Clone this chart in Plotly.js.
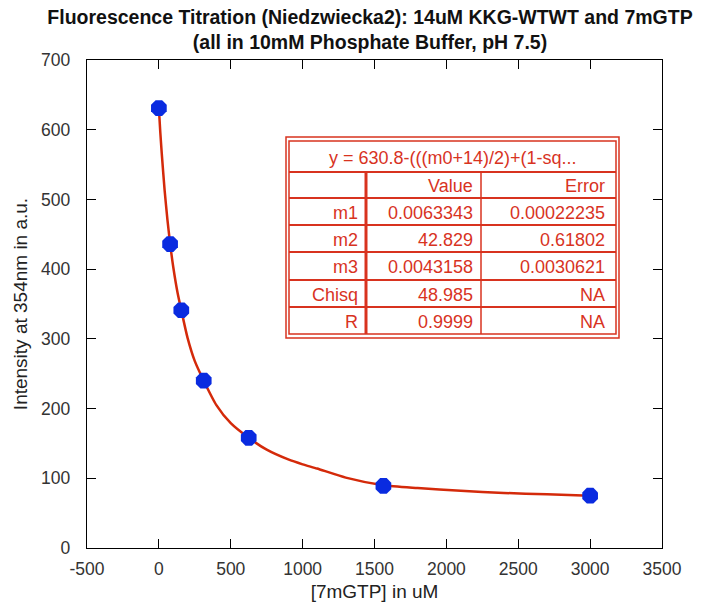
<!DOCTYPE html>
<html>
<head>
<meta charset="utf-8">
<script src="https://cdn.plot.ly/plotly-3.0.1.min.js"></script>
<style>html,body{margin:0;padding:0;background:#fff;}#chart{width:712px;height:610px;}</style>
</head>
<body>
<div id="chart"></div>
<script>
// Measured data points
const concentration = [0, 78, 156, 312, 625, 1562, 3000];
const intensity = [631, 436, 341, 240, 158, 89, 75];

// Fitted curve
const fitX = [0, 10, 20, 40, 60, 78, 100, 130, 156, 200, 250, 312, 400, 500, 625, 750, 900, 1000, 1100, 1300, 1562, 1800, 2100, 2400, 2700, 3000];
const fitY = [631, 596, 566, 513, 470, 437, 403, 366, 341, 301, 268, 240, 205, 179, 158, 141, 127, 120, 114, 101, 90, 86, 82, 79, 77, 75];

// Axis ticks
const xTickVals = [-500, 0, 500, 1000, 1500, 2000, 2500, 3000, 3500];
const xTickText = ["-500", "0", "500", "1000", "1500", "2000", "2500", "3000", "3500"];
const yTickVals = [0, 100, 200, 300, 400, 500, 600, 700];

// Fit table
const tableFormula = "y = 630.8-(((m0+14)/2)+(1-sq...";
const tableHeader = ["", "Value", "Error"];
const paramNames = ["m1", "m2", "m3", "Chisq", "R"];
const paramValues = ["0.0063343", "42.829", "0.0043158", "48.985", "0.9999"];
const paramErrors = ["0.00022235", "0.61802", "0.0030621", "NA", "NA"];

// pixel -> paper helpers (plot area 87..662 x, 60..548 y)
const L = 87, R = 662, T = 60, B = 548;
const px = v => (v - L) / (R - L);
const py = v => (B - v) / (B - T);

const red = '#d8331f';
const font = "'Liberation Sans', Arial, sans-serif";

const shapes = [];
const annotations = [];
function rect(x0, y0, x1, y1, w) {
  shapes.push({type: 'rect', xref: 'paper', yref: 'paper', x0: px(x0), x1: px(x1), y0: py(y0), y1: py(y1), line: {color: red, width: w}});
}
function hline(x0, x1, y, w) {
  shapes.push({type: 'line', xref: 'paper', yref: 'paper', x0: px(x0), x1: px(x1), y0: py(y), y1: py(y), line: {color: red, width: w}});
}
function vline(x, y0, y1, w) {
  shapes.push({type: 'line', xref: 'paper', yref: 'paper', x0: px(x), x1: px(x), y0: py(y0), y1: py(y1), line: {color: red, width: w}});
}
function txt(s, xRight, yCenter, anchor) {
  annotations.push({text: s, xref: 'paper', yref: 'paper', x: px(xRight), y: py(yCenter), xanchor: anchor || 'right', yanchor: 'middle', showarrow: false, font: {family: font, size: 18, color: red}});
}

// table geometry
const tL = 289, tR = 616, tT = 141, tB = 334;
const titleBottom = 172;
const rowEdges = [172, 198, 225, 252, 280, 307, 334];
const colA = 366, colB = 481;
shapes.push({type: 'rect', xref: 'paper', yref: 'paper', x0: px(286), x1: px(619), y0: py(137), y1: py(338), line: {color: red, width: 1.5}, fillcolor: 'white', layer: 'above'});
rect(tL, tT, tR, tB, 1.5);
for (let i = 0; i < rowEdges.length - 1; i++) hline(tL, tR, rowEdges[i], 2);
vline(colA, titleBottom, tB, 3);
vline(colB, titleBottom, tB, 1.5);

txt(tableFormula, (tL + tR) / 2, (tT + titleBottom) / 2 + 1, 'center');
const rows = [tableHeader].concat(paramNames.map((n, i) => [n, paramValues[i], paramErrors[i]]));
rows.forEach((r, i) => {
  const yc = (rowEdges[i] + rowEdges[i + 1]) / 2 + 1;
  if (r[0]) txt(r[0], colA - 6, yc);
  txt(r[1], colB - 6, yc);
  txt(r[2], tR - 9, yc);
});

const traces = [
  {x: fitX, y: fitY, mode: 'lines', type: 'scatter', line: {color: '#d42a0a', width: 2.5, shape: 'spline', smoothing: 0.6}, hoverinfo: 'skip'},
  {x: concentration, y: intensity, mode: 'markers', type: 'scatter', marker: {symbol: 'octagon', size: 17, color: '#0a2be0', line: {width: 0}}}
];

const axisCommon = {
  showgrid: false, zeroline: false, showline: true, linecolor: '#000', linewidth: 1.2,
  mirror: 'ticks', ticks: 'inside', ticklen: 9, tickcolor: '#000', tickwidth: 1.2,
  tickfont: {family: font, size: 17.5, color: '#333'}
};

const layout = {
  width: 712, height: 610,
  margin: {l: L, r: 712 - R, t: T, b: 610 - B},
  paper_bgcolor: '#fff', plot_bgcolor: '#fff',
  showlegend: false,
  title: {text: '<b>Fluorescence Titration (Niedzwiecka2): 14uM KKG-WTWT and 7mGTP</b><br><b>(all in 10mM Phosphate Buffer, pH 7.5)</b>',
    x: 370 / 712, xref: 'container', xanchor: 'center', y: 1 - 24 / 610, yref: 'container', yanchor: 'top',
    pad: {t: 0, b: 0, l: 0, r: 0},
    font: {family: font, size: 19.5, color: '#111'}},
  xaxis: Object.assign({}, axisCommon, {range: [-500, 3500], tickvals: xTickVals, ticktext: xTickText, ticklabelstandoff: 5,
    title: {text: '[7mGTP] in uM', font: {family: font, size: 19, color: '#222'}, standoff: 6}}),
  yaxis: Object.assign({}, axisCommon, {range: [0, 700], tickvals: yTickVals, ticklabelstandoff: 12,
    title: {text: 'Intensity at 354nm in a.u.', font: {family: font, size: 19, color: '#222'}, standoff: 8}}),
  shapes: shapes,
  annotations: annotations
};

Plotly.newPlot('chart', traces, layout, {displayModeBar: false, staticPlot: true});
</script>
</body>
</html>
